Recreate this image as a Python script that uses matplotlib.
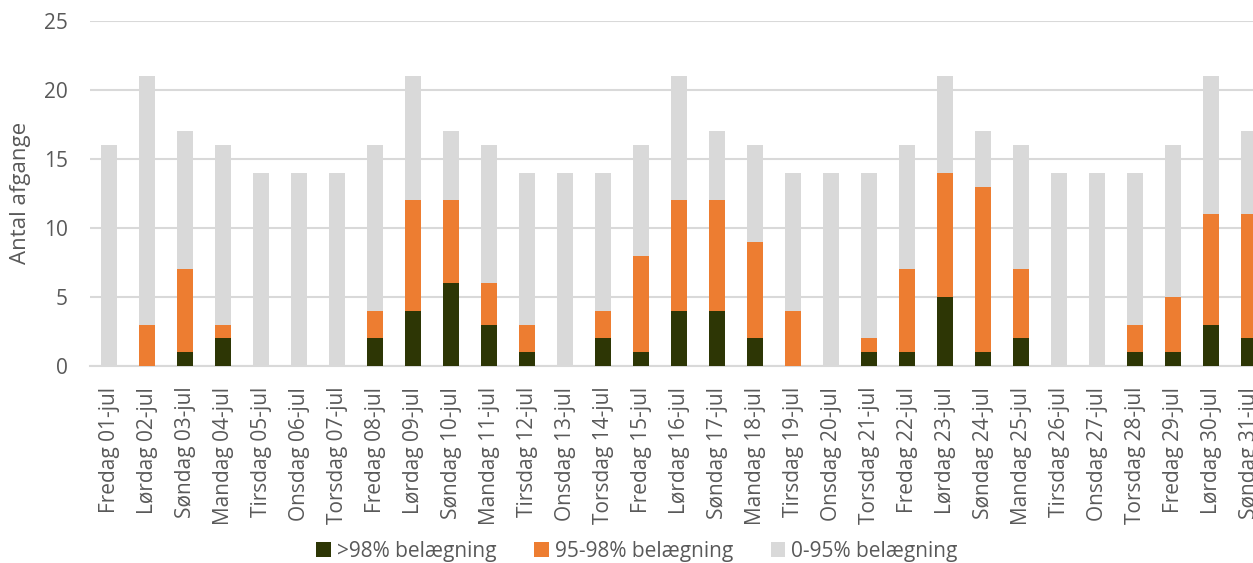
import matplotlib
matplotlib.use("Agg")
import matplotlib.pyplot as plt
import numpy as np

plt.rcParams['font.family'] = ['Open Sans', 'DejaVu Sans']

# Data
days = ['Fredag', 'Lørdag', 'Søndag', 'Mandag', 'Tirsdag', 'Onsdag', 'Torsdag'] * 5
dates = [f'{d:02d}-jul' for d in range(1, 32)]
labels = [f'{days[i]} {dates[i]}' for i in range(31)]

total = [16, 21, 17, 16, 14, 14, 14, 16, 21, 17, 16, 14, 14, 14, 16, 21,
         17, 16, 14, 14, 14, 16, 21, 17, 16, 14, 14, 14, 16, 21, 17]
over98 = [0, 0, 1, 2, 0, 0, 0, 2, 4, 6, 3, 1, 0, 2, 1, 4,
          4, 2, 0, 0, 1, 1, 5, 1, 2, 0, 0, 1, 1, 3, 2]
top95 = [0, 3, 7, 3, 0, 0, 0, 4, 12, 12, 6, 3, 0, 4, 8, 12,
         12, 9, 4, 0, 2, 7, 14, 13, 7, 0, 0, 3, 5, 11, 11]

over98 = np.array(over98)
mid = np.array(top95) - over98
rest = np.array(total) - np.array(top95)

c_dark = '#2d3605'
c_orange = '#ed7d31'
c_grey = '#d9d9d9'
txt = '#595959'

fig = plt.figure(figsize=(12.53, 5.63), dpi=100)
# axes run past the right edge, like the cropped original
ax = fig.add_axes([90 / 1253, 197 / 563, 1178 / 1253, 345 / 563])

x = np.arange(len(labels))
w = 0.4
ax.bar(x, over98, w, color=c_dark, label='>98% belægning', zorder=3)
ax.bar(x, mid, w, bottom=over98, color=c_orange, label='95-98% belægning', zorder=3)
ax.bar(x, rest, w, bottom=over98 + mid, color=c_grey, label='0-95% belægning', zorder=3)

ax.set_xlim(-0.5, len(labels) - 0.5)
ax.set_ylim(0, 25)
ax.set_yticks(range(0, 26, 5))
ax.yaxis.grid(True, color='#d9d9d9', linewidth=1.5, zorder=0)
ax.set_axisbelow(True)

ax.set_xticks(x)
ax.set_xticklabels(labels, rotation=90, fontsize=15, color=txt)
ax.tick_params(axis='y', labelsize=15, labelcolor=txt, length=0, pad=16)
ax.tick_params(axis='x', length=0, pad=15)

for s in ['top', 'right', 'left']:
    ax.spines[s].set_visible(False)
ax.spines['bottom'].set_color('#d9d9d9')
ax.spines['bottom'].set_linewidth(1.5)

fig.text(21 / 1253, 1 - 193 / 563, 'Antal afgange', rotation=90, fontsize=16,
         color=txt, ha='center', va='center')

fig.legend(loc='center', bbox_to_anchor=(637 / 1253, 1 - 551 / 563), ncol=3,
           frameon=False, fontsize=15, labelcolor=txt, handlelength=0.7,
           handleheight=0.7, handletextpad=0.3, columnspacing=1.8)

fig.savefig('out.png', dpi=100)
